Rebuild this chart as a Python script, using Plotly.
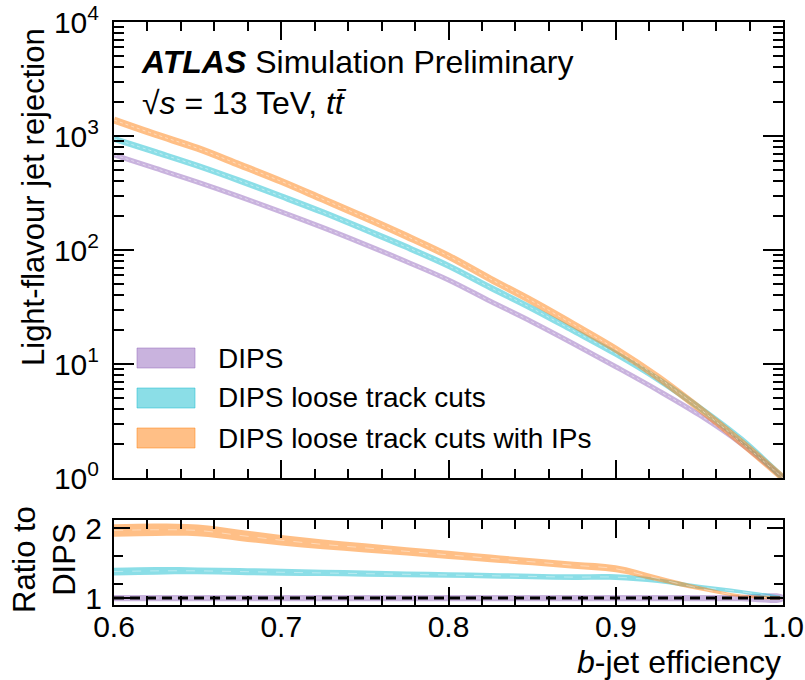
import plotly.graph_objects as go

# ---- data ----
eff = [0.600, 0.625, 0.650, 0.675, 0.700, 0.725, 0.750, 0.775, 0.800,
       0.825, 0.850, 0.875, 0.900, 0.925, 0.950, 0.975, 1.000]

rej_dips = [684, 519, 394, 294, 216, 157, 112, 78.9, 54.6,
            35.5, 23.4, 15.0, 9.46, 5.9, 3.57, 2.0, 1.0]
rej_loose = [944, 721, 548, 406, 296, 214, 151, 106, 72.6,
             46.9, 30.7, 19.5, 12.3, 7.4, 4.14, 2.18, 1.0]
rej_loose_ip = [1380, 1030, 780, 560, 400, 278, 193, 132, 88.5,
                55.7, 35.6, 22.1, 13.5, 7.7, 4.07, 2.06, 1.0]

ratio_dips = [1.0] * 17
ratio_dips_err = [0.045] * 17
ratio_loose = [1.38, 1.39, 1.39, 1.38, 1.37, 1.36, 1.35, 1.34, 1.33,
               1.32, 1.31, 1.30, 1.30, 1.25, 1.16, 1.09, 1.0]
ratio_loose_err = [0.055, 0.055, 0.05, 0.05, 0.05, 0.045, 0.045, 0.04, 0.04,
                   0.04, 0.04, 0.04, 0.04, 0.035, 0.03, 0.025, 0.01]
ratio_loose_ip = [1.97, 1.98, 1.97, 1.90, 1.83, 1.77, 1.72, 1.67, 1.62,
                  1.57, 1.52, 1.47, 1.42, 1.28, 1.14, 1.03, 1.0]
ratio_loose_ip_err = [0.09, 0.09, 0.085, 0.08, 0.075, 0.07, 0.065, 0.06, 0.06,
                      0.055, 0.05, 0.05, 0.05, 0.04, 0.03, 0.02, 0.01]

labels = ["DIPS", "DIPS loose track cuts", "DIPS loose track cuts with IPs"]
colors = ["rgba(148,103,189,0.5)", "rgba(23,190,207,0.5)", "rgba(255,127,14,0.5)"]

FONT = "Liberation Sans"

fig = go.Figure()

# ---- main panel ----
for rej, col, w in zip([rej_dips, rej_loose, rej_loose_ip], colors, [5, 6, 7]):
    fig.add_trace(go.Scatter(x=eff, y=rej, mode="lines", line=dict(color=col, width=w, shape="spline"),
                             xaxis="x", yaxis="y", showlegend=False, hoverinfo="skip"))
    fig.add_trace(go.Scatter(x=eff, y=rej, mode="lines",
                             line=dict(color="rgba(255,255,255,0.45)", width=1, dash="dot", shape="spline"),
                             xaxis="x", yaxis="y", showlegend=False, hoverinfo="skip"))

# ---- ratio panel ----
for r, e, col in zip([ratio_dips, ratio_loose, ratio_loose_ip],
                     [ratio_dips_err, ratio_loose_err, ratio_loose_ip_err], colors):
    up = [a + b for a, b in zip(r, e)]
    lo = [a - b for a, b in zip(r, e)]
    fig.add_trace(go.Scatter(x=eff + eff[::-1], y=up + lo[::-1], fill="toself", fillcolor=col,
                             mode="lines", line=dict(width=0, shape="spline"),
                             xaxis="x2", yaxis="y2", showlegend=False, hoverinfo="skip"))
    fig.add_trace(go.Scatter(x=eff, y=r, mode="lines",
                             line=dict(color="rgba(255,255,255,0.4)", width=1, dash="dash", shape="spline"),
                             xaxis="x2", yaxis="y2", showlegend=False, hoverinfo="skip"))

fig.add_shape(type="line", xref="x2 domain", yref="y2", x0=0, x1=1, y0=1, y1=1,
              line=dict(color="black", width=3, dash="10px,6px"))

# ---- layout ----
W, H = 805, 680
L, R, T, B = 114, 22, 22, 75
ph = H - T - B
pw = W - L - R


def py(ypx):
    return (H - B - ypx) / ph


def px(xpx):
    return (xpx - L) / pw


axis_common = dict(showline=True, linecolor="black", linewidth=2, mirror="ticks",
                   ticks="inside", tickcolor="black", tickwidth=2,
                   showgrid=False, zeroline=False, automargin=False)

minor_log = []
for d in range(4):
    for k in range(2, 10):
        minor_log.append(k * 10 ** d)

fig.update_layout(
    template="none",
    width=W, height=H,
    margin=dict(l=L, r=R, t=T, b=B, autoexpand=False),
    paper_bgcolor="white", plot_bgcolor="white",
    font=dict(family=FONT, size=30, color="black"),
    showlegend=False,
    xaxis=dict(axis_common, domain=[0, 1], anchor="y", range=[0.6, 1.0], dtick=0.1, tick0=0.6,
               ticklen=18, showticklabels=False, matches="x2",
               minor=dict(ticks="inside", ticklen=9, dtick=0.02, tick0=0.6, tickwidth=1.5, tickcolor="black")),
    yaxis=dict(axis_common, domain=[py(478), 1], anchor="x", type="log", range=[0, 4],
               tickvals=[1, 10, 100, 1000, 10000],
               ticktext=["10<sup>0</sup>", "10<sup>1</sup>", "10<sup>2</sup>", "10<sup>3</sup>", "10<sup>4</sup>"],
               ticklen=20, tickfont=dict(size=30), ticklabelstandoff=7,
               minor=dict(ticks="inside", ticklen=10, tickvals=minor_log, tickwidth=1.5, tickcolor="black")),
    xaxis2=dict(axis_common, domain=[0, 1], anchor="y2", range=[0.6, 1.0], dtick=0.1, tick0=0.6,
                ticklen=18, tickformat=".1f", tickfont=dict(size=30), ticklabelstandoff=-6,
                minor=dict(ticks="inside", ticklen=9, dtick=0.02, tick0=0.6, tickwidth=1.5, tickcolor="black")),
    yaxis2=dict(axis_common, domain=[0, py(520)], anchor="x2", range=[0.9, 2.12],
                tickvals=[1, 2], ticktext=["1", "2"], ticklen=16, tickfont=dict(size=30), ticklabelstandoff=4,
                minor=dict(ticks="inside", ticklen=9, tickvals=[1.2, 1.6], tickwidth=1.5, tickcolor="black")),
)

ann = []
# axis titles
ann.append(dict(text="Light-flavour jet rejection", xref="paper", yref="paper",
                x=px(33), y=py(26), xanchor="center", yanchor="top", textangle=-90,
                showarrow=False, font=dict(size=31)))
ann.append(dict(text="Ratio to<br>DIPS", xref="paper", yref="paper",
                x=px(44), y=py(560), xanchor="center", yanchor="middle", textangle=-90,
                showarrow=False, font=dict(size=31)))
ann.append(dict(text="<i>b</i>-jet efficiency", xref="paper", yref="paper",
                x=1, y=py(662), xanchor="right", yanchor="middle",
                showarrow=False, font=dict(size=32)))
# ATLAS labels
ann.append(dict(text="<b><i>ATLAS</i></b> Simulation Preliminary", xref="paper", yref="paper",
                x=px(139), y=py(62), xanchor="left", yanchor="middle",
                showarrow=False, font=dict(size=32)))
ann.append(dict(text="√<i>s</i> = 13 TeV, <i>t</i><i>t̄</i>", xref="paper", yref="paper",
                x=px(140), y=py(103), xanchor="left", yanchor="middle",
                showarrow=False, font=dict(size=32)))

# manual legend
leg_rows = [358, 398, 438]
for lab, col, yc in zip(labels, colors, leg_rows):
    fig.add_shape(type="rect", xref="paper", yref="paper",
                  x0=px(137), x1=px(195), y0=py(yc + 10), y1=py(yc - 10),
                  fillcolor=col, line=dict(width=1, color=col))
    ann.append(dict(text=lab, xref="paper", yref="paper", x=px(216), y=py(yc),
                    xanchor="left", yanchor="middle", showarrow=False, font=dict(size=28)))

fig.update_layout(annotations=ann)

fig.write_html("out.html", config={"displayModeBar": False},
               post_script="document.body.style.margin='0';document.body.style.overflow='hidden';")
